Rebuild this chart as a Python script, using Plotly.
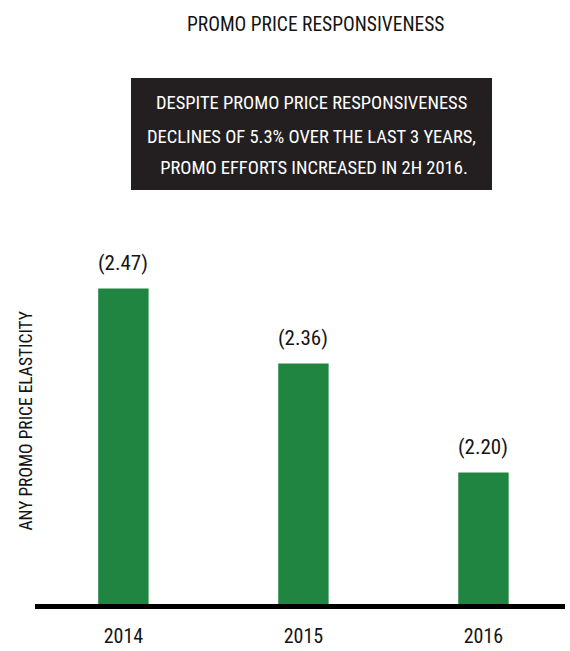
import plotly.graph_objects as go

years = ["2014", "2015", "2016"]
elasticity = [2.47, 2.36, 2.20]
labels = ["(2.47)", "(2.36)", "(2.20)"]

title_text = "PROMO PRICE RESPONSIVENESS"
callout_lines = [
    "DESPITE PROMO PRICE RESPONSIVENESS",
    "DECLINES OF 5.3% OVER THE LAST 3 YEARS,",
    " PROMO EFFORTS INCREASED IN 2H 2016.",
]
y_title = "ANY PROMO PRICE ELASTICITY"

FONT = "Roboto Condensed, Open Sans Condensed, sans-serif"
GREEN = "#208541"
INK = "#141414"

W, H = 570, 651
ML, MR, MT, MB = 35, 5, 200, 47
PW, PH = W - ML - MR, H - MT - MB


def px2x(px):
    return (px - ML) / PW


def px2y(py):
    return (H - MB - py) / PH


fig = go.Figure()
fig.add_trace(go.Bar(
    x=years, y=elasticity, marker_color=GREEN, marker_line_width=0,
    width=0.28, hoverinfo="skip",
))

for i, (v, lab) in enumerate(zip(elasticity, labels)):
    fig.add_annotation(x=i, y=v, text=lab, showarrow=False, yanchor="middle",
                       yshift=26, font=dict(family=FONT, size=21, color=INK))

# chart title
fig.add_annotation(xref="paper", yref="paper", x=px2x(315), y=px2y(24),
                   yanchor="middle", text=title_text, showarrow=False,
                   font=dict(family=FONT, size=19.5, color=INK))

# callout box
fig.add_shape(type="rect", xref="paper", yref="paper",
              x0=px2x(131), x1=px2x(492), y0=px2y(190), y1=px2y(78),
              fillcolor="#231f20", line_width=0, layer="above")
for line, cy in zip(callout_lines, [103, 137, 168]):
    fig.add_annotation(xref="paper", yref="paper", x=px2x(311.5), y=px2y(cy),
                       yanchor="middle", text=line, showarrow=False,
                       font=dict(family=FONT, size=18.5, color="white"))

# y-axis title
fig.add_annotation(xref="paper", yref="paper", x=px2x(25), y=px2y(421.5),
                   xanchor="center", yanchor="middle", textangle=-90,
                   text=y_title, showarrow=False,
                   font=dict(family=FONT, size=17.5, color=INK))

fig.update_layout(
    width=W, height=H,
    margin=dict(l=ML, r=MR, t=MT, b=MB),
    paper_bgcolor="white", plot_bgcolor="white",
    showlegend=False,
    xaxis=dict(type="category", range=[-0.491, 2.453], showline=True,
               linewidth=5, linecolor="black", ticks="", showgrid=False,
               automargin=False, ticklabelstandoff=10,
               tickfont=dict(family=FONT, size=20, color=INK)),
    yaxis=dict(range=[2.007, 2.6], showticklabels=False, showgrid=False,
               zeroline=False, showline=False, automargin=False),
)

fig.write_html("out.html", config={"displayModeBar": False},
               post_script="document.body.style.margin='0';document.body.style.overflow='hidden';")
